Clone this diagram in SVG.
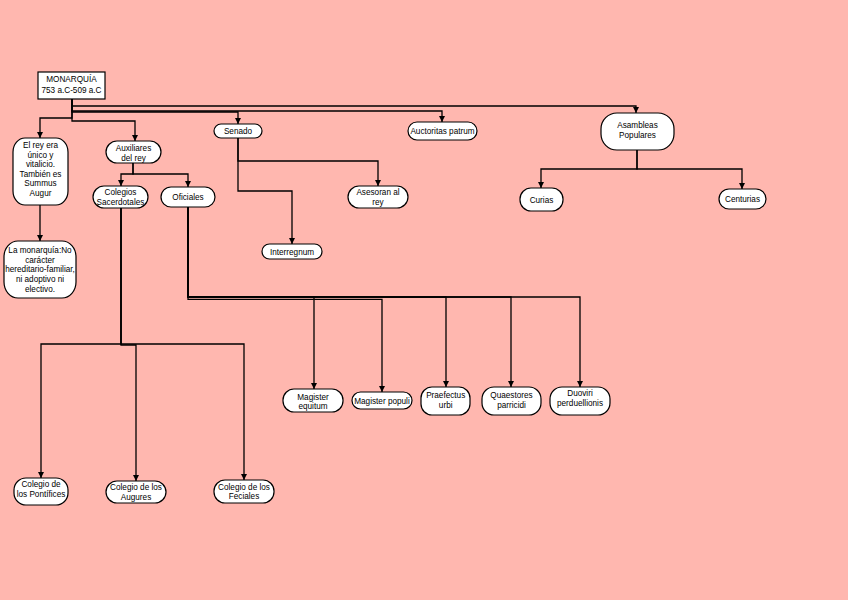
<svg xmlns="http://www.w3.org/2000/svg" width="848" height="600" viewBox="0 0 848 600">
<style>
.n{fill:#fff;stroke:#000;stroke-width:1.2}
.t{font-family:"Liberation Sans",Arial,sans-serif;font-size:8.2px;fill:#000;text-anchor:middle}
.c{fill:none;stroke:#000;stroke-width:1.3}
</style>
<defs>
<marker id="a" viewBox="0 0 10 10" refX="10" refY="5" markerWidth="7" markerHeight="6" markerUnits="userSpaceOnUse" orient="auto">
<path d="M0,0 L10,5 L0,10 z" fill="#000"/>
</marker>
</defs>
<rect width="848" height="600" fill="#ffb7af"/>
<g id="connectors">
<path class="c" marker-end="url(#a)" d="M72,99 V106 H636 V113"/>
<path class="c" marker-end="url(#a)" d="M72,99 V111 H442 V122"/>
<path class="c" marker-end="url(#a)" d="M72,99 V112 H238 V124"/>
<path class="c" marker-end="url(#a)" d="M72,99 V118 H40 V138"/>
<path class="c" marker-end="url(#a)" d="M72,99 V121 H135 V141"/>
<path class="c" marker-end="url(#a)" d="M238,138 V161 H378 V186"/>
<path class="c" marker-end="url(#a)" d="M238,138 V191 H292 V244"/>
<path class="c" marker-end="url(#a)" d="M40,205 V241"/>
<path class="c" marker-end="url(#a)" d="M133,163 V174 H121 V186"/>
<path class="c" marker-end="url(#a)" d="M133,163 V174 H188 V187"/>
<path class="c" marker-end="url(#a)" d="M121,208 V344 H41 V478"/>
<path class="c" marker-end="url(#a)" d="M121,208 V345 H136 V481"/>
<path class="c" marker-end="url(#a)" d="M121,208 V344 H244 V480"/>
<path class="c" marker-end="url(#a)" d="M188,207 V297 H314 V389"/>
<path class="c" marker-end="url(#a)" d="M188,207 V299.3 H382 V392"/>
<path class="c" marker-end="url(#a)" d="M188,207 V297 H446 V387"/>
<path class="c" marker-end="url(#a)" d="M188,207 V297 H511 V387"/>
<path class="c" marker-end="url(#a)" d="M188,207 V297 H580 V387"/>
<path class="c" marker-end="url(#a)" d="M637,150 V169 H541 V188"/>
<path class="c" marker-end="url(#a)" d="M637,150 V169 H742 V189"/>
</g>
<g id="monarquia"><rect class="n" x="38" y="72" width="67" height="27"/><text class="t" x="71.5" y="82">MONARQUÍA</text><text class="t" x="71.5" y="92.5">753 a.C-509 a.C</text></g>
<g id="senado"><rect class="n" x="214" y="124" width="48" height="14" rx="7"/><text class="t" x="238" y="134">Senado</text></g>
<g id="auctoritas"><rect class="n" x="408" y="122" width="69" height="18" rx="9"/><text class="t" x="442.5" y="134">Auctoritas patrum</text></g>
<g id="asambleas"><rect class="n" x="601" y="113" width="73" height="37" rx="16"/><text class="t" x="637.5" y="128">Asambleas</text><text class="t" x="637.5" y="138">Populares</text></g>
<g id="curias"><rect class="n" x="520" y="188" width="43" height="23" rx="11"/><text class="t" x="541.5" y="202.5">Curias</text></g>
<g id="centurias"><rect class="n" x="719" y="189" width="47" height="20" rx="10"/><text class="t" x="742.5" y="202">Centurias</text></g>
<g id="asesoran"><rect class="n" x="348" y="186" width="60" height="22" rx="11"/><text class="t" x="378" y="194.7">Asesoran al</text><text class="t" x="378" y="205">rey</text></g>
<g id="interregnum"><rect class="n" x="262" y="244" width="60" height="15" rx="7.5"/><text class="t" x="292" y="254.5">Interregnum</text></g>
<g id="elrey"><rect class="n" x="13" y="138" width="55" height="67" rx="12" ry="14"/><text class="t" x="40.5" y="148">El rey era</text><text class="t" x="40.5" y="157.5">único y</text><text class="t" x="40.5" y="167">vitalicio.</text><text class="t" x="40.5" y="176.5">También es</text><text class="t" x="40.5" y="186">Summus</text><text class="t" x="40.5" y="195.7">Augur</text></g>
<g id="monarquia2"><rect class="n" x="4" y="241" width="72" height="57" rx="14" ry="16"/><text class="t" x="40" y="253">La monarquía:No</text><text class="t" x="40" y="262.5">carácter</text><text class="t" x="40" y="272">hereditario-familiar,</text><text class="t" x="40" y="282">ni adoptivo ni</text><text class="t" x="40" y="291.5">electivo.</text></g>
<g id="auxiliares"><rect class="n" x="106" y="141" width="55" height="22" rx="11"/><text class="t" x="133.5" y="151">Auxiliares</text><text class="t" x="133.5" y="160.7">del rey</text></g>
<g id="colegios"><rect class="n" x="93" y="186" width="55" height="22" rx="11"/><text class="t" x="120.5" y="195.3">Colegios</text><text class="t" x="120.5" y="204.7">Sacerdotales</text></g>
<g id="oficiales"><rect class="n" x="161" y="187" width="54" height="20" rx="10"/><text class="t" x="188" y="199.5">Oficiales</text></g>
<g id="equitum"><rect class="n" x="283" y="389" width="60" height="23" rx="11"/><text class="t" x="313" y="399.7">Magister</text><text class="t" x="313" y="409">equitum</text></g>
<g id="populi"><rect class="n" x="352" y="392" width="60" height="17" rx="8.5"/><text class="t" x="382" y="403.5">Magister populi</text></g>
<g id="praefectus"><rect class="n" x="421" y="387" width="49" height="28" rx="11"/><text class="t" x="445.7" y="398">Praefectus</text><text class="t" x="445.7" y="408">urbi</text></g>
<g id="quaestores"><rect class="n" x="482" y="387" width="59" height="28" rx="12"/><text class="t" x="511.5" y="398">Quaestores</text><text class="t" x="511.5" y="408">parricidi</text></g>
<g id="duoviri"><rect class="n" x="550" y="387" width="60" height="28" rx="12"/><text class="t" x="580" y="396.3">Duoviri</text><text class="t" x="580" y="405.7">perduellionis</text></g>
<g id="pontifices"><rect class="n" x="14" y="478" width="54" height="27" rx="12"/><text class="t" x="41" y="487.3">Colegio de</text><text class="t" x="41" y="497">los Pontífices</text></g>
<g id="augures"><rect class="n" x="106" y="481" width="60" height="22" rx="11"/><text class="t" x="136" y="489.7">Colegio de los</text><text class="t" x="136" y="499.7">Augures</text></g>
<g id="feciales"><rect class="n" x="214" y="480" width="60" height="23" rx="11"/><text class="t" x="244" y="489.7">Colegio de los</text><text class="t" x="244" y="499">Feciales</text></g>
</svg>
